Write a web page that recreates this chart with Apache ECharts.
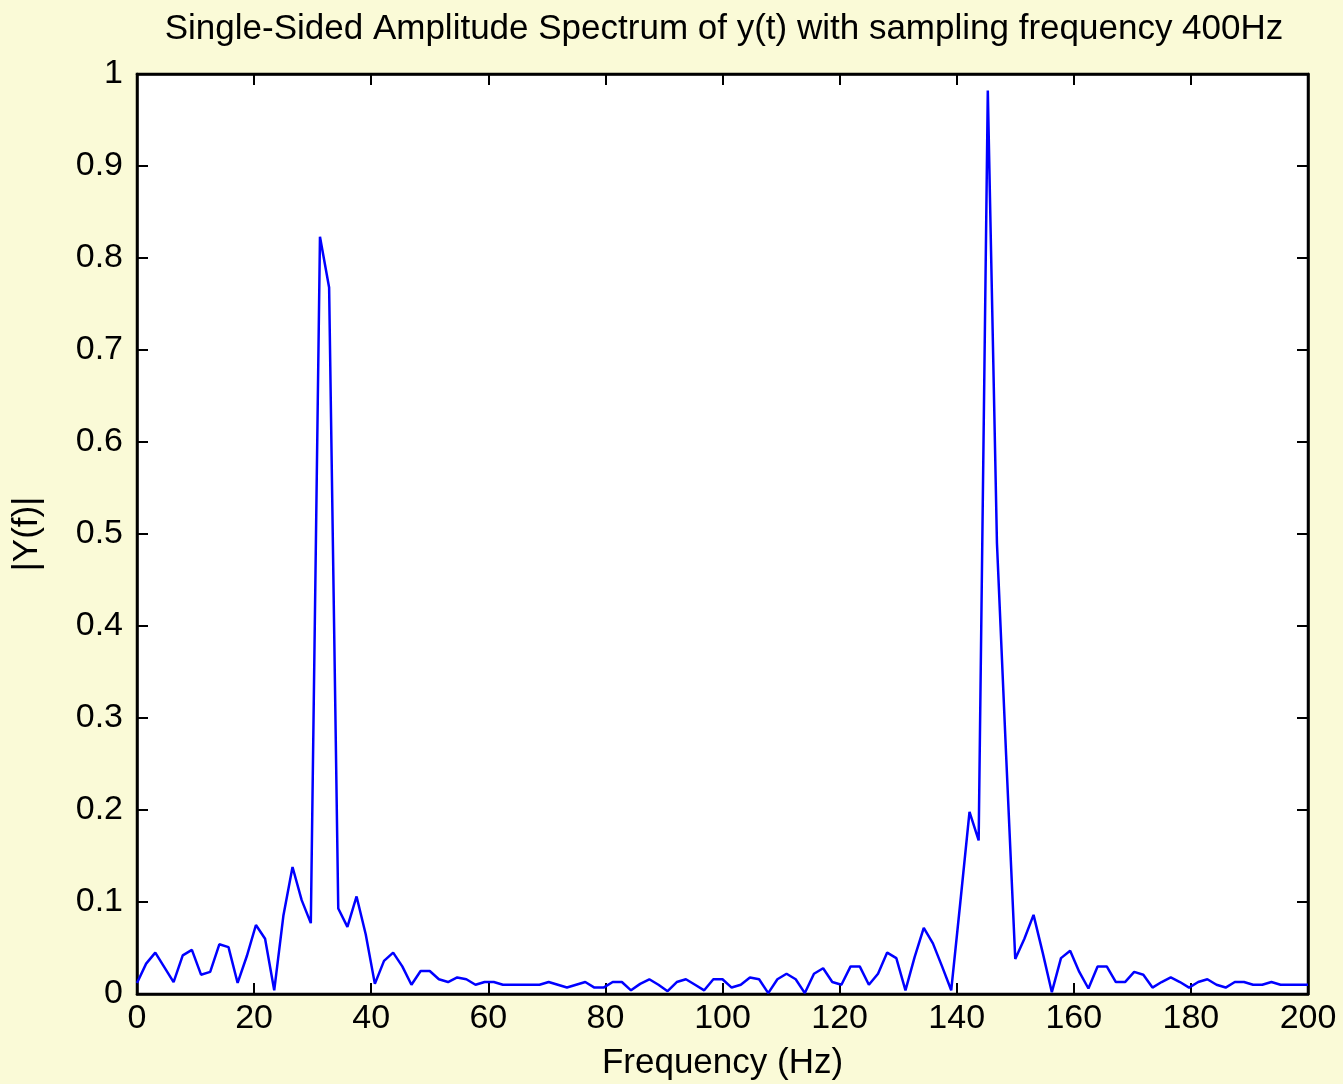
<!DOCTYPE html>
<html>
<head>
<meta charset="utf-8">
<script src="https://cdn.jsdelivr.net/npm/echarts@6/dist/echarts.min.js"></script>
<style>
  html, body { margin: 0; padding: 0; background: #FAFAD7; }
  #chart { width: 1343px; height: 1084px; }
</style>
</head>
<body>
<div id="chart"></div>
<script>
// Sampling setup (frequency bins: k * fs / nfft)
const fs = 400;
const nfft = 256;

// |Y(f)| amplitude values, bins 0..128
const amplitudeLow = [
  0.012, 0.033, 0.045, 0.029, 0.013, 0.042, 0.048, 0.021, 0.024, 0.054,
  0.051, 0.012, 0.041, 0.075, 0.060, 0.004, 0.085, 0.138, 0.102, 0.077,
  0.823, 0.768, 0.093, 0.073, 0.106, 0.065, 0.011, 0.036, 0.045, 0.030,
  0.010, 0.025, 0.025, 0.016, 0.013, 0.018, 0.016, 0.010, 0.013, 0.013,
  0.010, 0.010, 0.010, 0.010, 0.010, 0.013, 0.010, 0.007, 0.010, 0.013,
  0.007, 0.007, 0.013, 0.013, 0.004, 0.011, 0.016, 0.010, 0.003, 0.013,
  0.016, 0.010, 0.004, 0.016
];
const amplitudeHigh = [
  0.016, 0.007, 0.010, 0.018, 0.016, 0.001, 0.016, 0.022, 0.016, 0.001,
  0.022, 0.028, 0.013, 0.010, 0.030, 0.030, 0.010, 0.022, 0.045, 0.039,
  0.004, 0.040, 0.072, 0.055, 0.030, 0.004, 0.100, 0.198, 0.167, 0.982,
  0.490, 0.260, 0.038, 0.060, 0.086, 0.045, 0.002, 0.039, 0.047, 0.024,
  0.006, 0.030, 0.030, 0.013, 0.013, 0.024, 0.021, 0.007, 0.013, 0.018,
  0.013, 0.007, 0.013, 0.016, 0.010, 0.007, 0.013, 0.013, 0.010, 0.010,
  0.013, 0.010, 0.010, 0.010, 0.010
];

const xTicks = [0, 20, 40, 60, 80, 100, 120, 140, 160, 180, 200];
const yTicks = [0, 0.1, 0.2, 0.3, 0.4, 0.5, 0.6, 0.7, 0.8, 0.9, 1];

const titleText = 'Single-Sided Amplitude Spectrum of y(t) with sampling frequency 400Hz';
const xLabel = 'Frequency (Hz)';
const yLabel = '|Y(f)|';

const amplitudes = amplitudeLow.concat(amplitudeHigh);
const points = amplitudes.map((a, k) => [k * fs / nfft, a]);

const FONT = '"Liberation Sans", Arial, sans-serif';
const chart = echarts.init(document.getElementById('chart'), null, { renderer: 'canvas' });

const tickStyle = { show: true, inside: true, length: 11, lineStyle: { color: '#000', width: 2 } };
const lineStyleAxis = { color: '#000', width: 2.5 };

chart.setOption({
  backgroundColor: '#FAFAD7',
  animation: false,
  title: {
    text: titleText,
    left: 719, textAlign: 'center', top: 7,
    textStyle: { fontFamily: FONT, fontSize: 35, fontWeight: 'normal', color: '#000' }
  },
  grid: {
    left: 137, right: 35, top: 74, bottom: 90,
    outerBoundsMode: 'none',
    containLabel: false,
    show: true, backgroundColor: '#ffffff', borderColor: '#000', borderWidth: 2.5
  },
  xAxis: [
    {
      type: 'value', min: xTicks[0], max: xTicks[xTicks.length - 1], interval: 20,
      position: 'bottom',
      name: xLabel, nameLocation: 'middle', nameGap: 52,
      nameTextStyle: { fontFamily: FONT, fontSize: 35, color: '#000' },
      axisLine: { show: true, onZero: false, lineStyle: lineStyleAxis },
      axisTick: tickStyle,
      axisLabel: { fontFamily: FONT, fontSize: 34, color: '#000', margin: 8 },
      splitLine: { show: false }
    },
    {
      type: 'value', min: xTicks[0], max: xTicks[xTicks.length - 1], interval: 20,
      position: 'top',
      axisLine: { show: true, onZero: false, lineStyle: lineStyleAxis },
      axisTick: tickStyle,
      axisLabel: { show: false },
      splitLine: { show: false }
    }
  ],
  yAxis: [
    {
      type: 'value', min: yTicks[0], max: yTicks[yTicks.length - 1], interval: 0.1,
      position: 'left',
      name: yLabel, nameLocation: 'middle', nameGap: 92, nameRotate: 90,
      nameTextStyle: { fontFamily: FONT, fontSize: 35, color: '#000' },
      axisLine: { show: true, onZero: false, lineStyle: lineStyleAxis },
      axisTick: tickStyle,
      axisLabel: {
        fontFamily: FONT, fontSize: 34, color: '#000', margin: 14,
        formatter: v => String(Math.round(v * 10) / 10)
      },
      splitLine: { show: false }
    },
    {
      type: 'value', min: yTicks[0], max: yTicks[yTicks.length - 1], interval: 0.1,
      position: 'right',
      axisLine: { show: true, onZero: false, lineStyle: lineStyleAxis },
      axisTick: tickStyle,
      axisLabel: { show: false },
      splitLine: { show: false }
    }
  ],
  series: [{
    type: 'line',
    xAxisIndex: 0, yAxisIndex: 0,
    data: points,
    showSymbol: false,
    symbol: 'none',
    lineStyle: { color: '#0000FF', width: 2.5 },
    z: 3
  }]
});
</script>
</body>
</html>
